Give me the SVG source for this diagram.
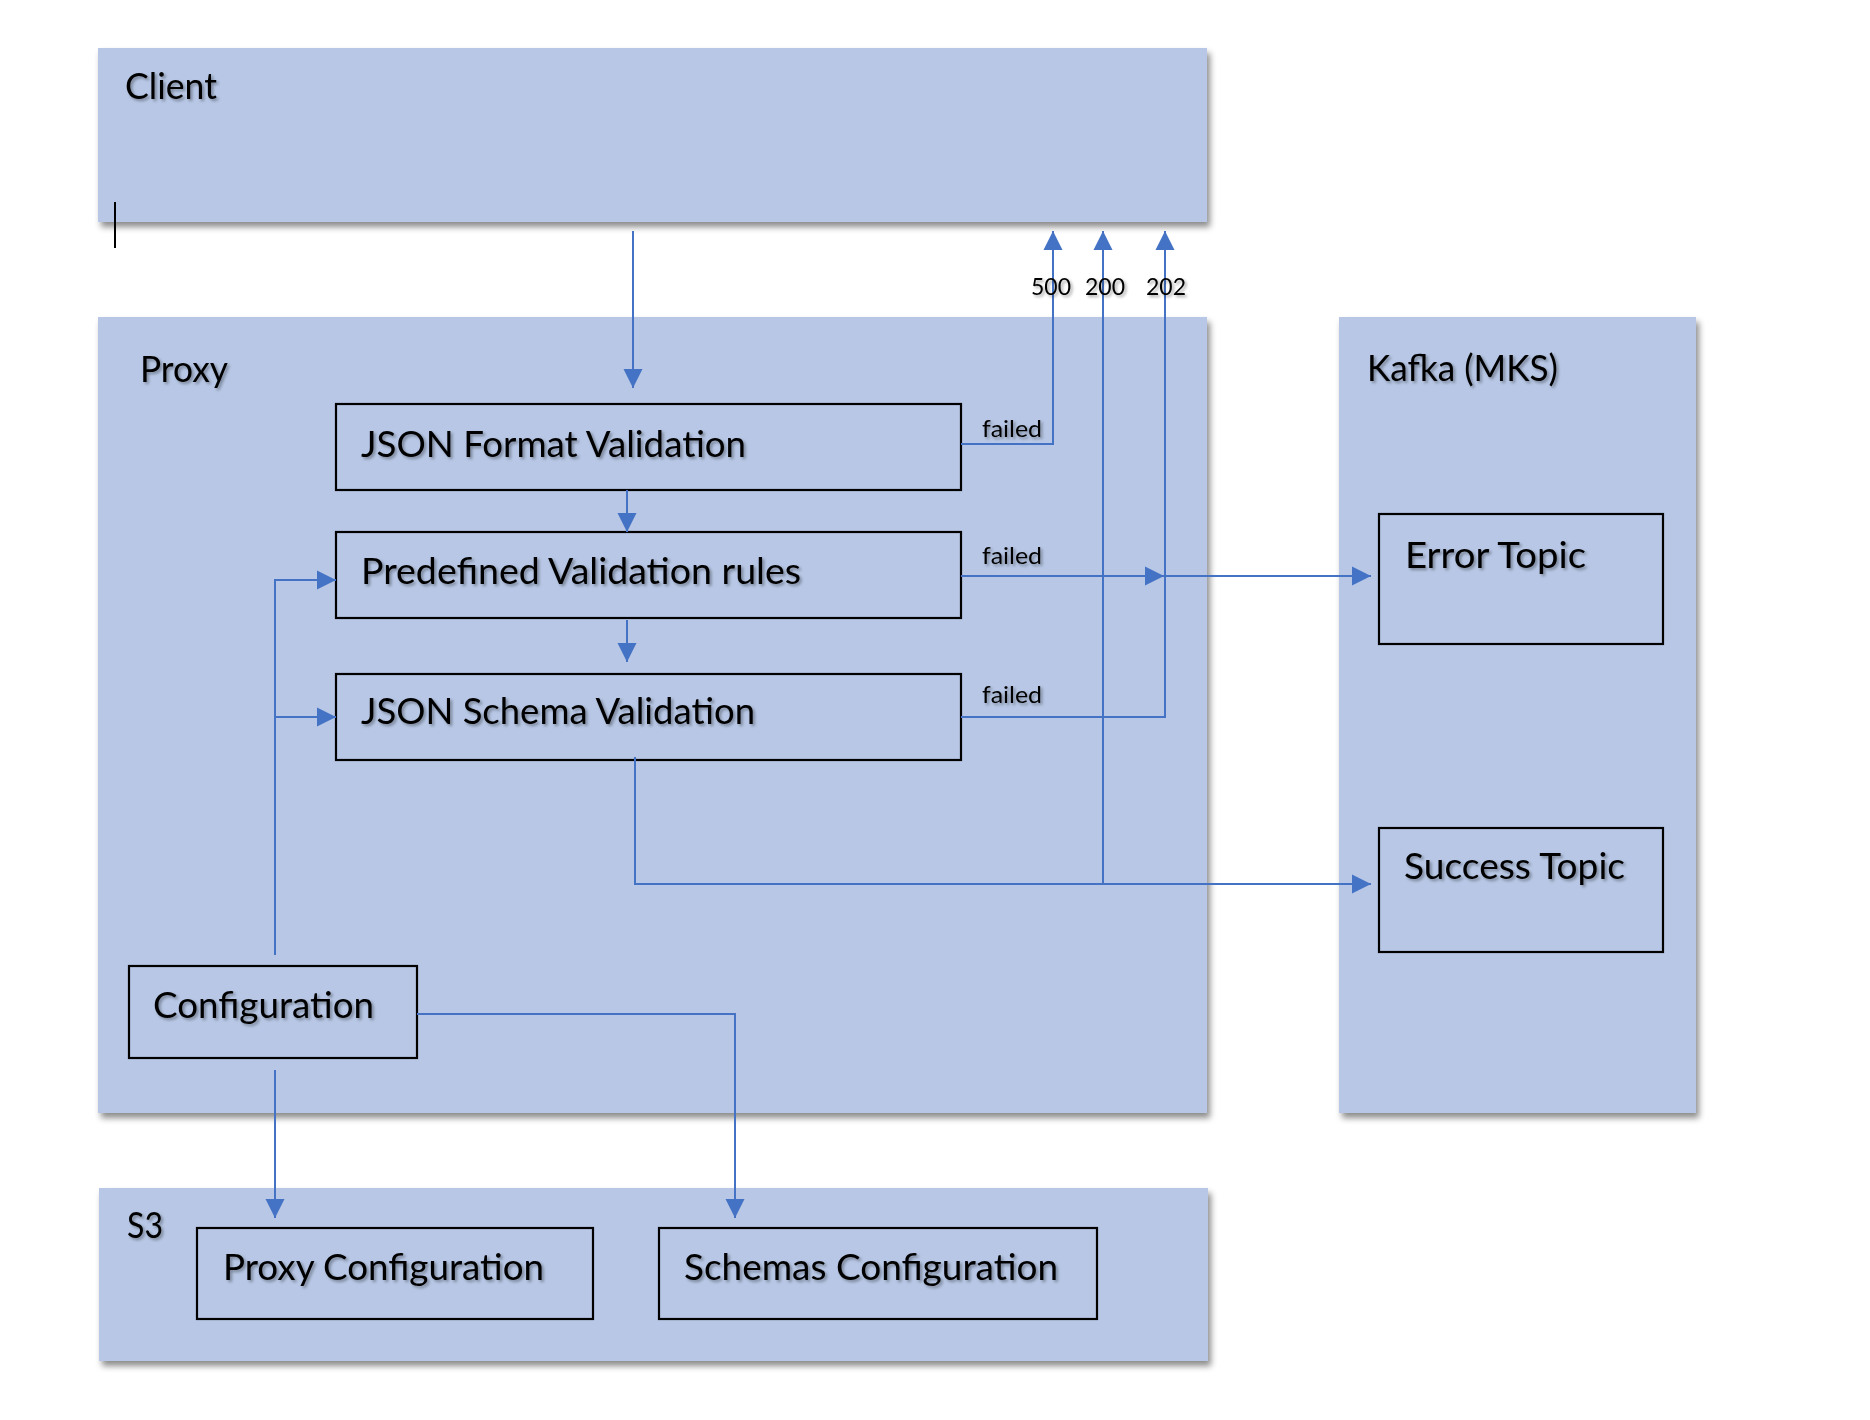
<svg xmlns="http://www.w3.org/2000/svg" width="1870" height="1420" viewBox="0 0 1870 1420">
<defs>
  <filter id="boxShadow" x="-5%" y="-5%" width="110%" height="115%">
    <feDropShadow dx="3" dy="5" stdDeviation="3" flood-color="#000" flood-opacity="0.45"/>
  </filter>
  <filter id="txtShadow" x="-10%" y="-30%" width="120%" height="160%">
    <feDropShadow dx="2" dy="2" stdDeviation="1.5" flood-color="#000" flood-opacity="0.35"/>
  </filter>
  <marker id="arr" viewBox="0 0 10 10" refX="10" refY="5" markerWidth="19" markerHeight="20" markerUnits="userSpaceOnUse" orient="auto">
    <path d="M0,0 L10,5 L0,10 z" fill="#4472C4"/>
  </marker>
</defs>
<style>
  .container { fill: #B7C7E5; filter: url(#boxShadow); }
  .box { fill: none; stroke: #000; stroke-width: 2.2; }
  .title { font-family: Lato, "Liberation Sans", sans-serif; font-size: 37px; fill: #000; filter: url(#txtShadow); }
  .label { font-family: Lato, "Liberation Sans", sans-serif; font-size: 37px; fill: #000; filter: url(#txtShadow); }
  .small { font-family: Lato, "Liberation Sans", sans-serif; font-size: 24px; fill: #000; filter: url(#txtShadow); }
  .conn { fill: none; stroke: #4472C4; stroke-width: 2; }
  .arrow { marker-end: url(#arr); }
</style>
<rect width="1870" height="1420" fill="#fff"/>

<g id="client">
  <rect class="container" x="98" y="48" width="1109" height="174"/>
  <text class="title" x="125" y="99" textLength="92" lengthAdjust="spacingAndGlyphs">Client</text>
  <path d="M115,202 V248" stroke="#000" stroke-width="2"/>
</g>

<g id="proxy">
  <rect class="container" x="98" y="317" width="1109" height="796"/>
  <text class="title" x="140" y="382" textLength="88" lengthAdjust="spacingAndGlyphs">Proxy</text>
</g>

<g id="kafka">
  <rect class="container" x="1339" y="317" width="357" height="796"/>
  <text class="title" x="1367" y="381" textLength="191" lengthAdjust="spacingAndGlyphs">Kafka (MKS)</text>
</g>

<g id="s3">
  <rect class="container" x="99" y="1188" width="1109" height="173"/>
  <text class="title" x="127" y="1238" textLength="36" lengthAdjust="spacingAndGlyphs">S3</text>
</g>

<g id="json-format-validation">
  <rect class="box" x="336" y="404" width="625" height="86"/>
  <text class="label" x="361" y="457" textLength="385" lengthAdjust="spacingAndGlyphs">JSON Format Validation</text>
</g>

<g id="predefined-validation-rules">
  <rect class="box" x="336" y="532" width="625" height="86"/>
  <text class="label" x="361" y="584" textLength="440" lengthAdjust="spacingAndGlyphs">Predefined Validation rules</text>
</g>

<g id="json-schema-validation">
  <rect class="box" x="336" y="674" width="625" height="86"/>
  <text class="label" x="361" y="724" textLength="394" lengthAdjust="spacingAndGlyphs">JSON Schema Validation</text>
</g>

<g id="configuration">
  <rect class="box" x="129" y="966" width="288" height="92"/>
  <text class="label" x="153" y="1018" textLength="221" lengthAdjust="spacingAndGlyphs">Configuration</text>
</g>

<g id="error-topic">
  <rect class="box" x="1379" y="514" width="284" height="130"/>
  <text class="label" x="1405" y="568" textLength="181" lengthAdjust="spacingAndGlyphs">Error Topic</text>
</g>

<g id="success-topic">
  <rect class="box" x="1379" y="828" width="284" height="124"/>
  <text class="label" x="1404" y="879" textLength="221" lengthAdjust="spacingAndGlyphs">Success Topic</text>
</g>

<g id="proxy-configuration">
  <rect class="box" x="197" y="1228" width="396" height="91"/>
  <text class="label" x="223" y="1280" textLength="321" lengthAdjust="spacingAndGlyphs">Proxy Configuration</text>
</g>

<g id="schemas-configuration">
  <rect class="box" x="659" y="1228" width="438" height="91"/>
  <text class="label" x="684" y="1280" textLength="374" lengthAdjust="spacingAndGlyphs">Schemas Configuration</text>
</g>

<g id="connectors">
  <path class="conn arrow" d="M633,231 V388"/>
  <path class="conn arrow" d="M627,490 V532"/>
  <path class="conn arrow" d="M627,620 V662"/>
  <path class="conn arrow" d="M961,444 H1053 V231"/>
  <path class="conn arrow" d="M961,576 H1164"/>
  <path class="conn arrow" d="M1164,576 H1371"/>
  <path class="conn arrow" d="M961,717 H1165 V231"/>
  <path class="conn arrow" d="M635,757 V884 H1371"/>
  <path class="conn arrow" d="M1103,884 V231"/>
  <path class="conn arrow" d="M275,955 V580 H336"/>
  <path class="conn arrow" d="M275,717 H336"/>
  <path class="conn arrow" d="M417,1014 H735 V1218"/>
  <path class="conn arrow" d="M275,1070 V1218"/>
  <text class="small" x="982" y="437" textLength="60" lengthAdjust="spacingAndGlyphs">failed</text>
  <text class="small" x="982" y="564" textLength="60" lengthAdjust="spacingAndGlyphs">failed</text>
  <text class="small" x="982" y="703" textLength="60" lengthAdjust="spacingAndGlyphs">failed</text>
  <text class="small" x="1051" y="295" text-anchor="middle" textLength="40" lengthAdjust="spacingAndGlyphs">500</text>
  <text class="small" x="1105" y="295" text-anchor="middle" textLength="40" lengthAdjust="spacingAndGlyphs">200</text>
  <text class="small" x="1166" y="295" text-anchor="middle" textLength="40" lengthAdjust="spacingAndGlyphs">202</text>
</g>
</svg>
